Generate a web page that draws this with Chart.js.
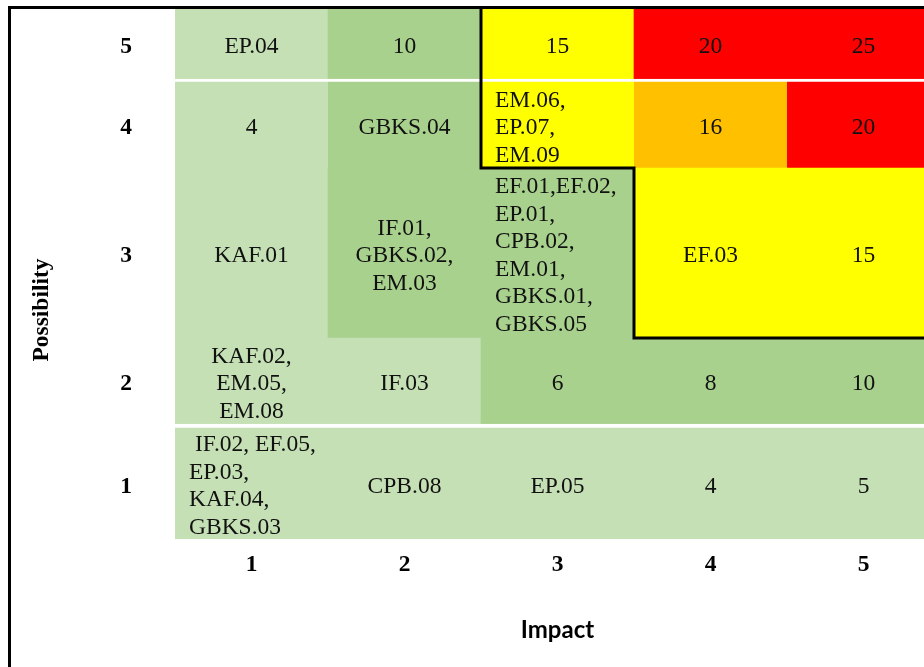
<!DOCTYPE html>
<html>
<head>
<meta charset="utf-8">
<script src="https://cdn.jsdelivr.net/npm/chart.js@4.4.1/dist/chart.umd.min.js"></script>
<style>
   html, body { margin: 0; padding: 0; background: #fff; overflow: hidden; }
   #wrap { position: relative; width: 924px; height: 667px; overflow: hidden; }
   #matriz { position: absolute; left: 0; top: 0; }
   .marco {
      position: absolute; left: 8px; top: 6px; width: 1000px; height: 1000px;
      border-top: 3px solid #000; border-left: 3px solid #000; pointer-events: none;
   }
</style>
</head>
<body>
<div id="wrap">
   <canvas id="matriz" width="940" height="667"></canvas>
   <div class="marco"></div>
</div>
<script>
// Categorias de los ejes
var impacto = ['1', '2', '3', '4', '5'];
var posibilidad = ['1', '2', '3', '4', '5'];

// Texto de cada celda, una fila por nivel de posibilidad (de abajo hacia arriba)
var celdasP1 = [' IF.02, EF.05,\nEP.03,\nKAF.04,\nGBKS.03', 'CPB.08', 'EP.05', '4', '5'];
var celdasP2 = ['KAF.02,\nEM.05,\nEM.08', 'IF.03', '6', '8', '10'];
var celdasP3 = ['KAF.01', 'IF.01,\nGBKS.02,\nEM.03', 'EF.01,EF.02,\nEP.01,\nCPB.02,\nEM.01,\nGBKS.01,\nGBKS.05', 'EF.03', '15'];
var celdasP4 = ['4', 'GBKS.04', 'EM.06,\nEP.07,\nEM.09', '16', '20'];
var celdasP5 = ['EP.04', '10', '15', '20', '25'];

// Nivel de riesgo de cada celda (0 bajo ... 4 extremo)
var nivelesP1 = [0, 0, 0, 0, 0];
var nivelesP2 = [0, 0, 1, 1, 1];
var nivelesP3 = [0, 1, 1, 2, 2];
var nivelesP4 = [0, 1, 2, 3, 4];
var nivelesP5 = [0, 1, 2, 4, 4];

var celdas = [celdasP1, celdasP2, celdasP3, celdasP4, celdasP5];
var niveles = [nivelesP1, nivelesP2, nivelesP3, nivelesP4, nivelesP5];

// Estilo y disposicion
var coloresNivel = ['#C5E0B4', '#A9D18E', '#FFFF00', '#FFC000', '#FF0000'];
var altoFila = [115, 86, 170, 89, 70];
var franjaBlanca = [4, 0, 0, 3, 0];
var celdasIzquierda = ['0-0', '2-2', '3-2'];
var fuenteCelda = '23.5px "Liberation Serif", "Times New Roman", serif';
var interlineado = 27.5;

Chart.defaults.font.family = '"Liberation Serif", "Times New Roman", serif';
Chart.defaults.color = '#000';

var totalAlto = altoFila.reduce(function (a, b) { return a + b; }, 0);

// centro visible de cada fila, para las etiquetas del eje y
var centrosFila = [];
var acumulado = 0;
altoFila.forEach(function (alto, r) {
   centrosFila.push(acumulado + (alto - franjaBlanca[r]) / 2 - 3);
   acumulado += alto;
});

function geometria(barra) {
   var p = barra.getProps(['x', 'y', 'base', 'width'], true);
   return {
      izq: p.x - p.width / 2,
      der: p.x + p.width / 2,
      cx: p.x,
      arriba: Math.min(p.y, p.base),
      abajo: Math.max(p.y, p.base)
   };
}

// Texto dentro de las celdas
var textoCeldas = {
   id: 'textoCeldas',
   afterDatasetsDraw: function (chart) {
      var ctx = chart.ctx;
      ctx.save();
      ctx.fillStyle = '#111';
      ctx.font = fuenteCelda;
      ctx.textBaseline = 'alphabetic';
      celdas.forEach(function (fila, r) {
         var meta = chart.getDatasetMeta(r);
         fila.forEach(function (texto, c) {
            var g = geometria(meta.data[c]);
            var medio = (g.arriba + franjaBlanca[r] + g.abajo) / 2;
            var lineas = texto.split('\n');
            var izquierda = celdasIzquierda.indexOf(r + '-' + c) >= 0;
            ctx.textAlign = izquierda ? 'left' : 'center';
            var tx = izquierda ? g.izq + 14 : g.cx;
            lineas.forEach(function (linea, i) {
               ctx.fillText(linea, tx, medio + 9 + (i - (lineas.length - 1) / 2) * interlineado);
            });
         });
      });
      ctx.restore();
   }
};

// Contorno negro alrededor de la zona de riesgo alto (nivel >= 2)
var contornoRiesgo = {
   id: 'contornoRiesgo',
   afterDatasetsDraw: function (chart) {
      var ctx = chart.ctx;
      ctx.save();
      ctx.strokeStyle = '#000';
      ctx.lineWidth = 3;
      ctx.lineCap = 'square';
      ctx.beginPath();
      niveles.forEach(function (fila, r) {
         fila.forEach(function (nivel, c) {
            if (nivel < 2) return;
            var g = geometria(chart.getDatasetMeta(r).data[c]);
            if (r > 0 && niveles[r - 1][c] < 2) { ctx.moveTo(g.izq, g.abajo); ctx.lineTo(g.der, g.abajo); }
            if (r < niveles.length - 1 && niveles[r + 1][c] < 2) { ctx.moveTo(g.izq, g.arriba); ctx.lineTo(g.der, g.arriba); }
            if (c > 0 && fila[c - 1] < 2) { ctx.moveTo(g.izq, g.arriba); ctx.lineTo(g.izq, g.abajo); }
            if (c < fila.length - 1 && fila[c + 1] < 2) { ctx.moveTo(g.der, g.arriba); ctx.lineTo(g.der, g.abajo); }
         });
      });
      ctx.stroke();
      ctx.restore();
   }
};

// Titulo vertical del eje y
var tituloPosibilidad = {
   id: 'tituloPosibilidad',
   afterDraw: function (chart) {
      var area = chart.chartArea;
      var ctx = chart.ctx;
      ctx.save();
      ctx.translate(chart.scales.y.left + 42, (area.top + area.bottom) / 2 + 36);
      ctx.rotate(-Math.PI / 2);
      ctx.font = 'bold 23.5px "Liberation Serif", "Times New Roman", serif';
      ctx.fillStyle = '#000';
      ctx.textAlign = 'center';
      ctx.textBaseline = 'middle';
      ctx.fillText('Possibility', 0, 0);
      ctx.restore();
   }
};

var datasets = posibilidad.map(function (p, r) {
   return {
      label: 'Possibility ' + p,
      data: impacto.map(function () { return altoFila[r]; }),
      backgroundColor: niveles[r].map(function (n) { return coloresNivel[n]; }),
      borderColor: '#fff',
      borderWidth: { top: franjaBlanca[r], right: 0, bottom: 0, left: 0 },
      barPercentage: 1,
      categoryPercentage: 1
   };
});

var ctxMatriz = document.getElementById('matriz').getContext('2d');
var grafico = new Chart(ctxMatriz, {
   type: 'bar',
   data: { labels: impacto, datasets: datasets },
   options: {
      responsive: false,
      animation: false,
      devicePixelRatio: 1,
      layout: { padding: { top: 9, left: 0, right: 0, bottom: 0 } },
      plugins: {
         legend: { display: false },
         tooltip: { enabled: false }
      },
      scales: {
         x: {
            stacked: true,
            grid: { display: false, drawTicks: false },
            border: { display: false },
            ticks: { color: '#000', font: { weight: 'bold', size: 23.5 }, padding: 12 },
            title: {
               display: true,
               text: 'Impact',
               color: '#000',
               font: { family: 'Lato', weight: 'bold', size: 24 },
               padding: { top: 0, bottom: 22 }
            },
            afterFit: function (eje) {
               eje.height = 128;
               eje.paddingLeft = 0;
               eje.paddingRight = 0;
            }
         },
         y: {
            stacked: true,
            min: 0,
            max: totalAlto,
            grid: { display: false, drawTicks: false },
            border: { display: false },
            afterBuildTicks: function (eje) {
               eje.ticks = centrosFila.map(function (v) { return { value: v }; });
            },
            ticks: {
               autoSkip: false,
               color: '#000',
               font: { weight: 'bold', size: 23.5 },
               padding: 43,
               callback: function (valor, i) { return posibilidad[i]; }
            },
            afterFit: function (eje) {
               eje.width = 175;
               eje.paddingTop = 0;
               eje.paddingBottom = 0;
            }
         }
      }
   },
   plugins: [textoCeldas, contornoRiesgo, tituloPosibilidad]
});
</script>
</body>
</html>
